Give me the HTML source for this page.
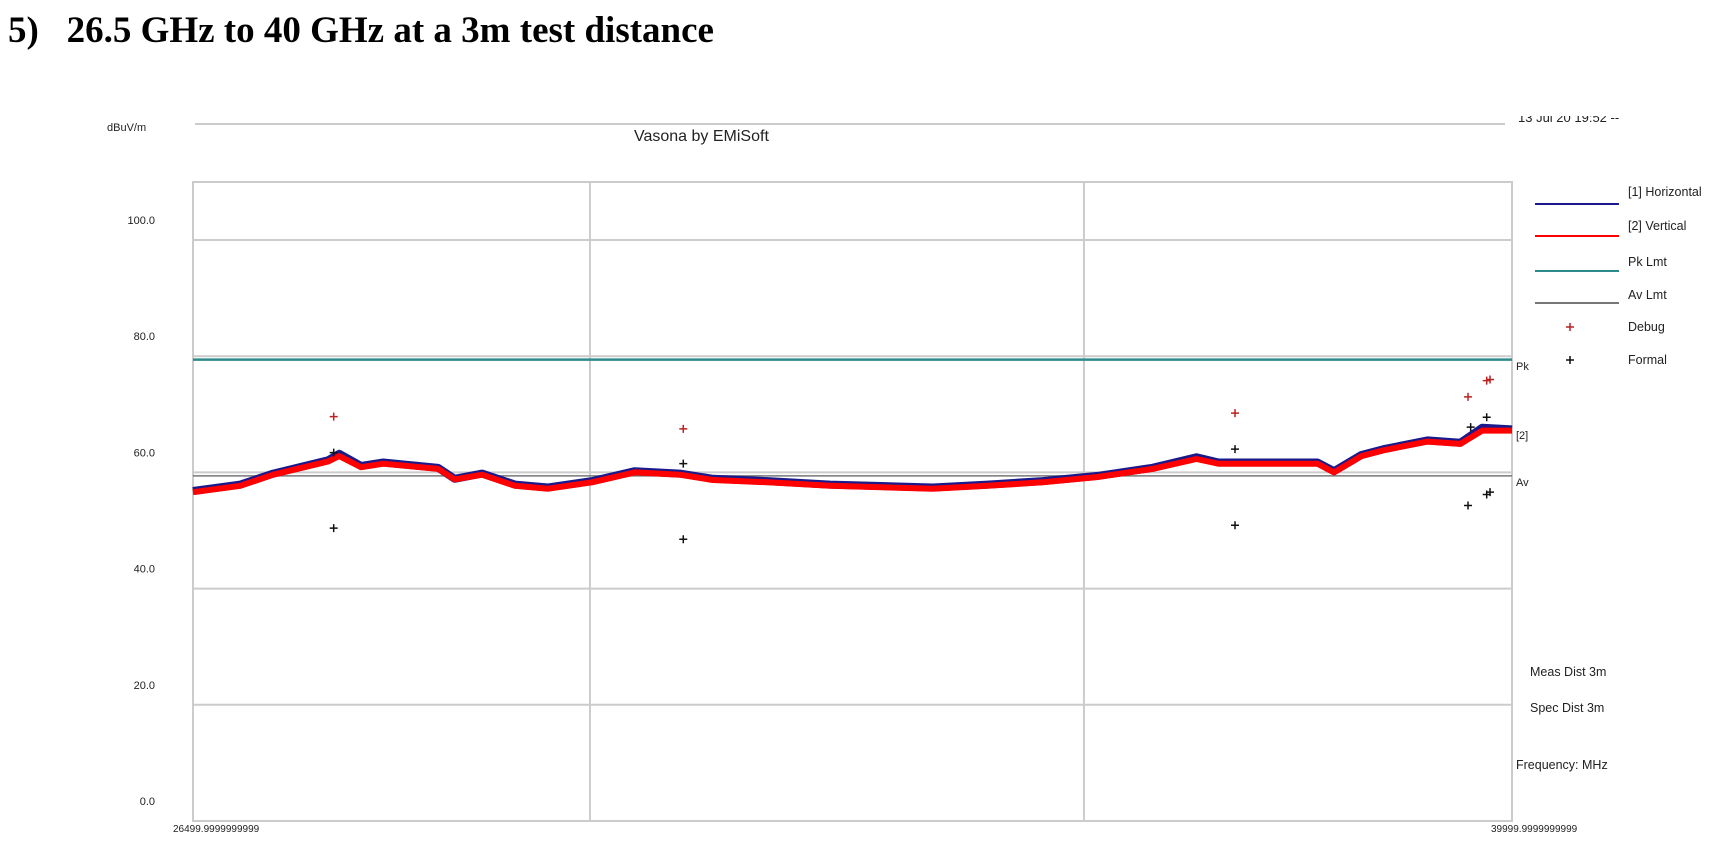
<!DOCTYPE html>
<html><head><meta charset="utf-8"><style>
body{margin:0;background:#fff;width:1721px;height:851px;overflow:hidden;position:relative;font-family:"Liberation Sans",Arial,sans-serif}
.t{position:absolute;white-space:nowrap;color:#222}
</style></head><body>
<div class="t" style="left:8px;top:9px;font:bold 37px 'Liberation Serif',serif;color:#000">5)&nbsp;&nbsp;&nbsp;26.5 GHz to 40 GHz at a 3m test distance</div>
<svg id="chart" width="1721" height="851" style="position:absolute;left:0;top:0" xmlns="http://www.w3.org/2000/svg"></svg>
<script>
const yTicks=[0,20,40,60,80,100];
const yTickLabels=["0.0","20.0","40.0","60.0","80.0","100.0"];
const xGrid=[30563,35619];
const traceFreq=[26500,26984,27321,27884,27996,28221,28446,29009,29178,29459,29796,30134,30584,31021,31484,31821,32384,33021,34071,34634,35196,35759,36321,36771,36996,37446,38009,38178,38459,38684,39134,39471,39696,40000];
const traceH=[56.8,57.9,59.8,62.1,63.2,61.1,61.7,60.8,58.9,59.8,57.9,57.4,58.5,60.2,59.8,58.9,58.5,57.9,57.4,57.9,58.5,59.4,60.8,62.6,61.7,61.7,61.7,60.2,63.0,64.0,65.5,65.1,67.7,67.4];
const traceV=[56.6,57.7,59.6,61.9,62.8,60.9,61.5,60.6,58.8,59.6,57.7,57.2,58.3,60.0,59.6,58.7,58.3,57.7,57.2,57.7,58.3,59.2,60.6,62.3,61.5,61.5,61.5,60.0,62.8,63.8,65.3,64.9,67.2,67.2];
const pkLimit=79.4, avLimit=59.4;
const debugFreq=[27940,31518,37165,39550,39741,39775];
const debugVal=[69.6,67.5,70.2,73.0,75.8,76.0];
const formalFreq=[27940,31518,37165,39550,39741,39775,27940,31518,37165,39577,39741];
const formalVal=[50.4,48.5,50.9,54.3,56.2,56.6,63.4,61.5,64.0,67.8,69.5];
</script>
<script>
const NS="http://www.w3.org/2000/svg";
const svg=document.getElementById('chart');
const L=193,R=1512,T=182,B=821;
const X=f=>L+(f-26500)/(40000-26500)*(R-L);
const Y=v=>B-v*(B-240)/100;
function mk(tag,at,p){const e=document.createElementNS(NS,tag);for(const k in at)e.setAttribute(k,at[k]);(p||svg).appendChild(e);return e;}
let e=mk('line',{x1:195,x2:1505,y1:124,y2:124,stroke:'#ccc','stroke-width':2});

e=mk('rect',{x:L,y:T,width:R-L,height:B-T,fill:'none',stroke:'#ccc','stroke-width':2});

yTicks.forEach((v,i)=>{
 if(v>0){const g=mk('line',{x1:L,x2:R,y1:Y(v),y2:Y(v),stroke:'#ccc','stroke-width':2});
 }
 const t=mk('text',{x:155,y:Y(v)-16,'font-size':11,'text-anchor':'end',fill:'#222','font-family':'Liberation Sans'});
 t.textContent=yTickLabels[i];
 
});
xGrid.forEach(f=>{const g=mk('line',{x1:X(f),x2:X(f),y1:T,y2:B,stroke:'#ccc','stroke-width':2});
 });
e=mk('line',{x1:L,x2:R,y1:Y(pkLimit),y2:Y(pkLimit),stroke:'#2e8b8b','stroke-width':2.5});

e=mk('line',{x1:L,x2:R,y1:Y(avLimit),y2:Y(avLimit),stroke:'#777','stroke-width':1.5});

function pts(fs,vs){return fs.map((f,i)=>X(f).toFixed(1)+','+Y(vs[i]).toFixed(1)).join(' ');}
e=mk('polyline',{points:pts(traceFreq,traceH),fill:'none',stroke:'#1a1a8c','stroke-width':8,'stroke-linejoin':'round'});

e=mk('polyline',{points:pts(traceFreq,traceV),fill:'none',stroke:'#ff0000','stroke-width':6,'stroke-linejoin':'round'});

function plus(x,y,c){const g=mk('path',{d:`M${x-4},${y}h8M${x},${y-4}v8`,stroke:c,'stroke-width':1.5});return g;}
debugFreq.forEach((f,i)=>{const g=plus(X(f),Y(debugVal[i]),'#b22');
 });
formalFreq.forEach((f,i)=>{const g=plus(X(f),Y(formalVal[i]),'#111');
 });
const legItems=[["[1] Horizontal",'#1a1a8c','line'],["[2] Vertical",'#ff0000','line'],["Pk Lmt",'#2e8b8b','line'],["Av Lmt",'#777','line'],["Debug",'#b22','plus'],["Formal",'#111','plus']];
const legY=[204,236,271,303,327,360];
const legTY=[192,226,262,295,327,360];
legItems.forEach((it,i)=>{
 let m;
 if(it[2]=='line') m=mk('line',{x1:1535,x2:1619,y1:legY[i],y2:legY[i],stroke:it[1],'stroke-width':2});
 else m=plus(1570,legY[i],it[1]);
 
 const t=mk('text',{x:1628,y:legTY[i]+4,'font-size':12.5,fill:'#222','font-family':'Liberation Sans'});
 t.textContent=it[0];
 
});
</script>
<div class="t" style="left:107px;top:122px;font-size:11px">dBuV/m</div>
<div class="t" style="left:634px;top:128px;font-size:16px">Vasona by EMiSoft</div>
<div style="position:absolute;left:1518px;top:116px;width:120px;height:10px;overflow:hidden">
<div class="t" style="left:0;top:-6px;font-size:13px">13 Jul 20 19:52 --</div></div>
<div class="t" style="left:1516px;top:361px;font-size:11px">Pk</div>
<div class="t" style="left:1516px;top:430px;font-size:11px">[2]</div>
<div class="t" style="left:1516px;top:477px;font-size:11px">Av</div>
<div class="t" style="left:1530px;top:665px;font-size:12.5px">Meas Dist 3m</div>
<div class="t" style="left:1530px;top:701px;font-size:12.5px">Spec Dist 3m</div>
<div class="t" style="left:1516px;top:758px;font-size:12.5px">Frequency: MHz</div>
<div class="t" style="left:173px;top:824px;font-size:10px">26499.9999999999</div>
<div class="t" style="left:1491px;top:824px;font-size:10px">39999.9999999999</div>
</body></html>
